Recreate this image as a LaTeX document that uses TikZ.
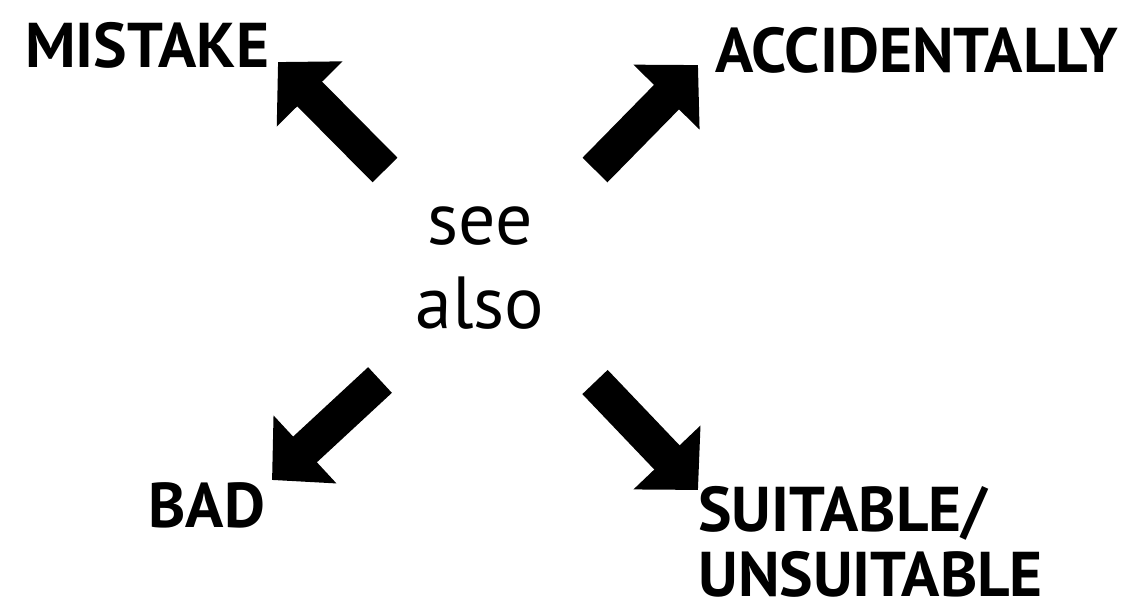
\documentclass[tikz,border=0pt]{standalone}
\usepackage{fontspec}
\setmainfont{PT Sans}
\usetikzlibrary{arrows.meta, positioning}

\begin{document}
\begin{tikzpicture}[
    x=0.02cm, y=-0.02cm,
    wordbox/.style={inner sep=0pt, font=\fontsize{36}{37}\selectfont\bfseries, anchor=base west},
    midbox/.style={inner sep=0pt, align=center, font=\fontsize{42}{48}\selectfont},
    bigarrow/.style={line width=0.7cm, -{Triangle[length=0.9cm, width=1.8cm]}}
]
    \useasboundingbox (0,0) rectangle (1139,609);

    % Centre
    \node[midbox] (see) at (480,268) {see\\also};

    % Words
    \node[wordbox] (mistake) at (25,67) {MISTAKE};
    \node[wordbox] (accid) at (715,72) {ACCIDENTALLY};
    \node[wordbox] (bad) at (148,527) {BAD};
    \node[wordbox, align=left, anchor=south west] (suit) at (698,598) {SUITABLE/\\UNSUITABLE};

    % Arrow ends
    \coordinate (mistake-tail) at (385,170);
    \coordinate (mistake-tip) at (278,62);
    \coordinate (accid-tail) at (595,170);
    \coordinate (accid-tip) at (698,65);
    \coordinate (bad-tail) at (380,380);
    \coordinate (bad-tip) at (272,480);
    \coordinate (suit-tail) at (595,382);
    \coordinate (suit-tip) at (698,490);

    \draw[bigarrow] (mistake-tail) -- (mistake-tip);
    \draw[bigarrow] (accid-tail) -- (accid-tip);
    \draw[bigarrow] (bad-tail) -- (bad-tip);
    \draw[bigarrow] (suit-tail) -- (suit-tip);
\end{tikzpicture}
\end{document}
